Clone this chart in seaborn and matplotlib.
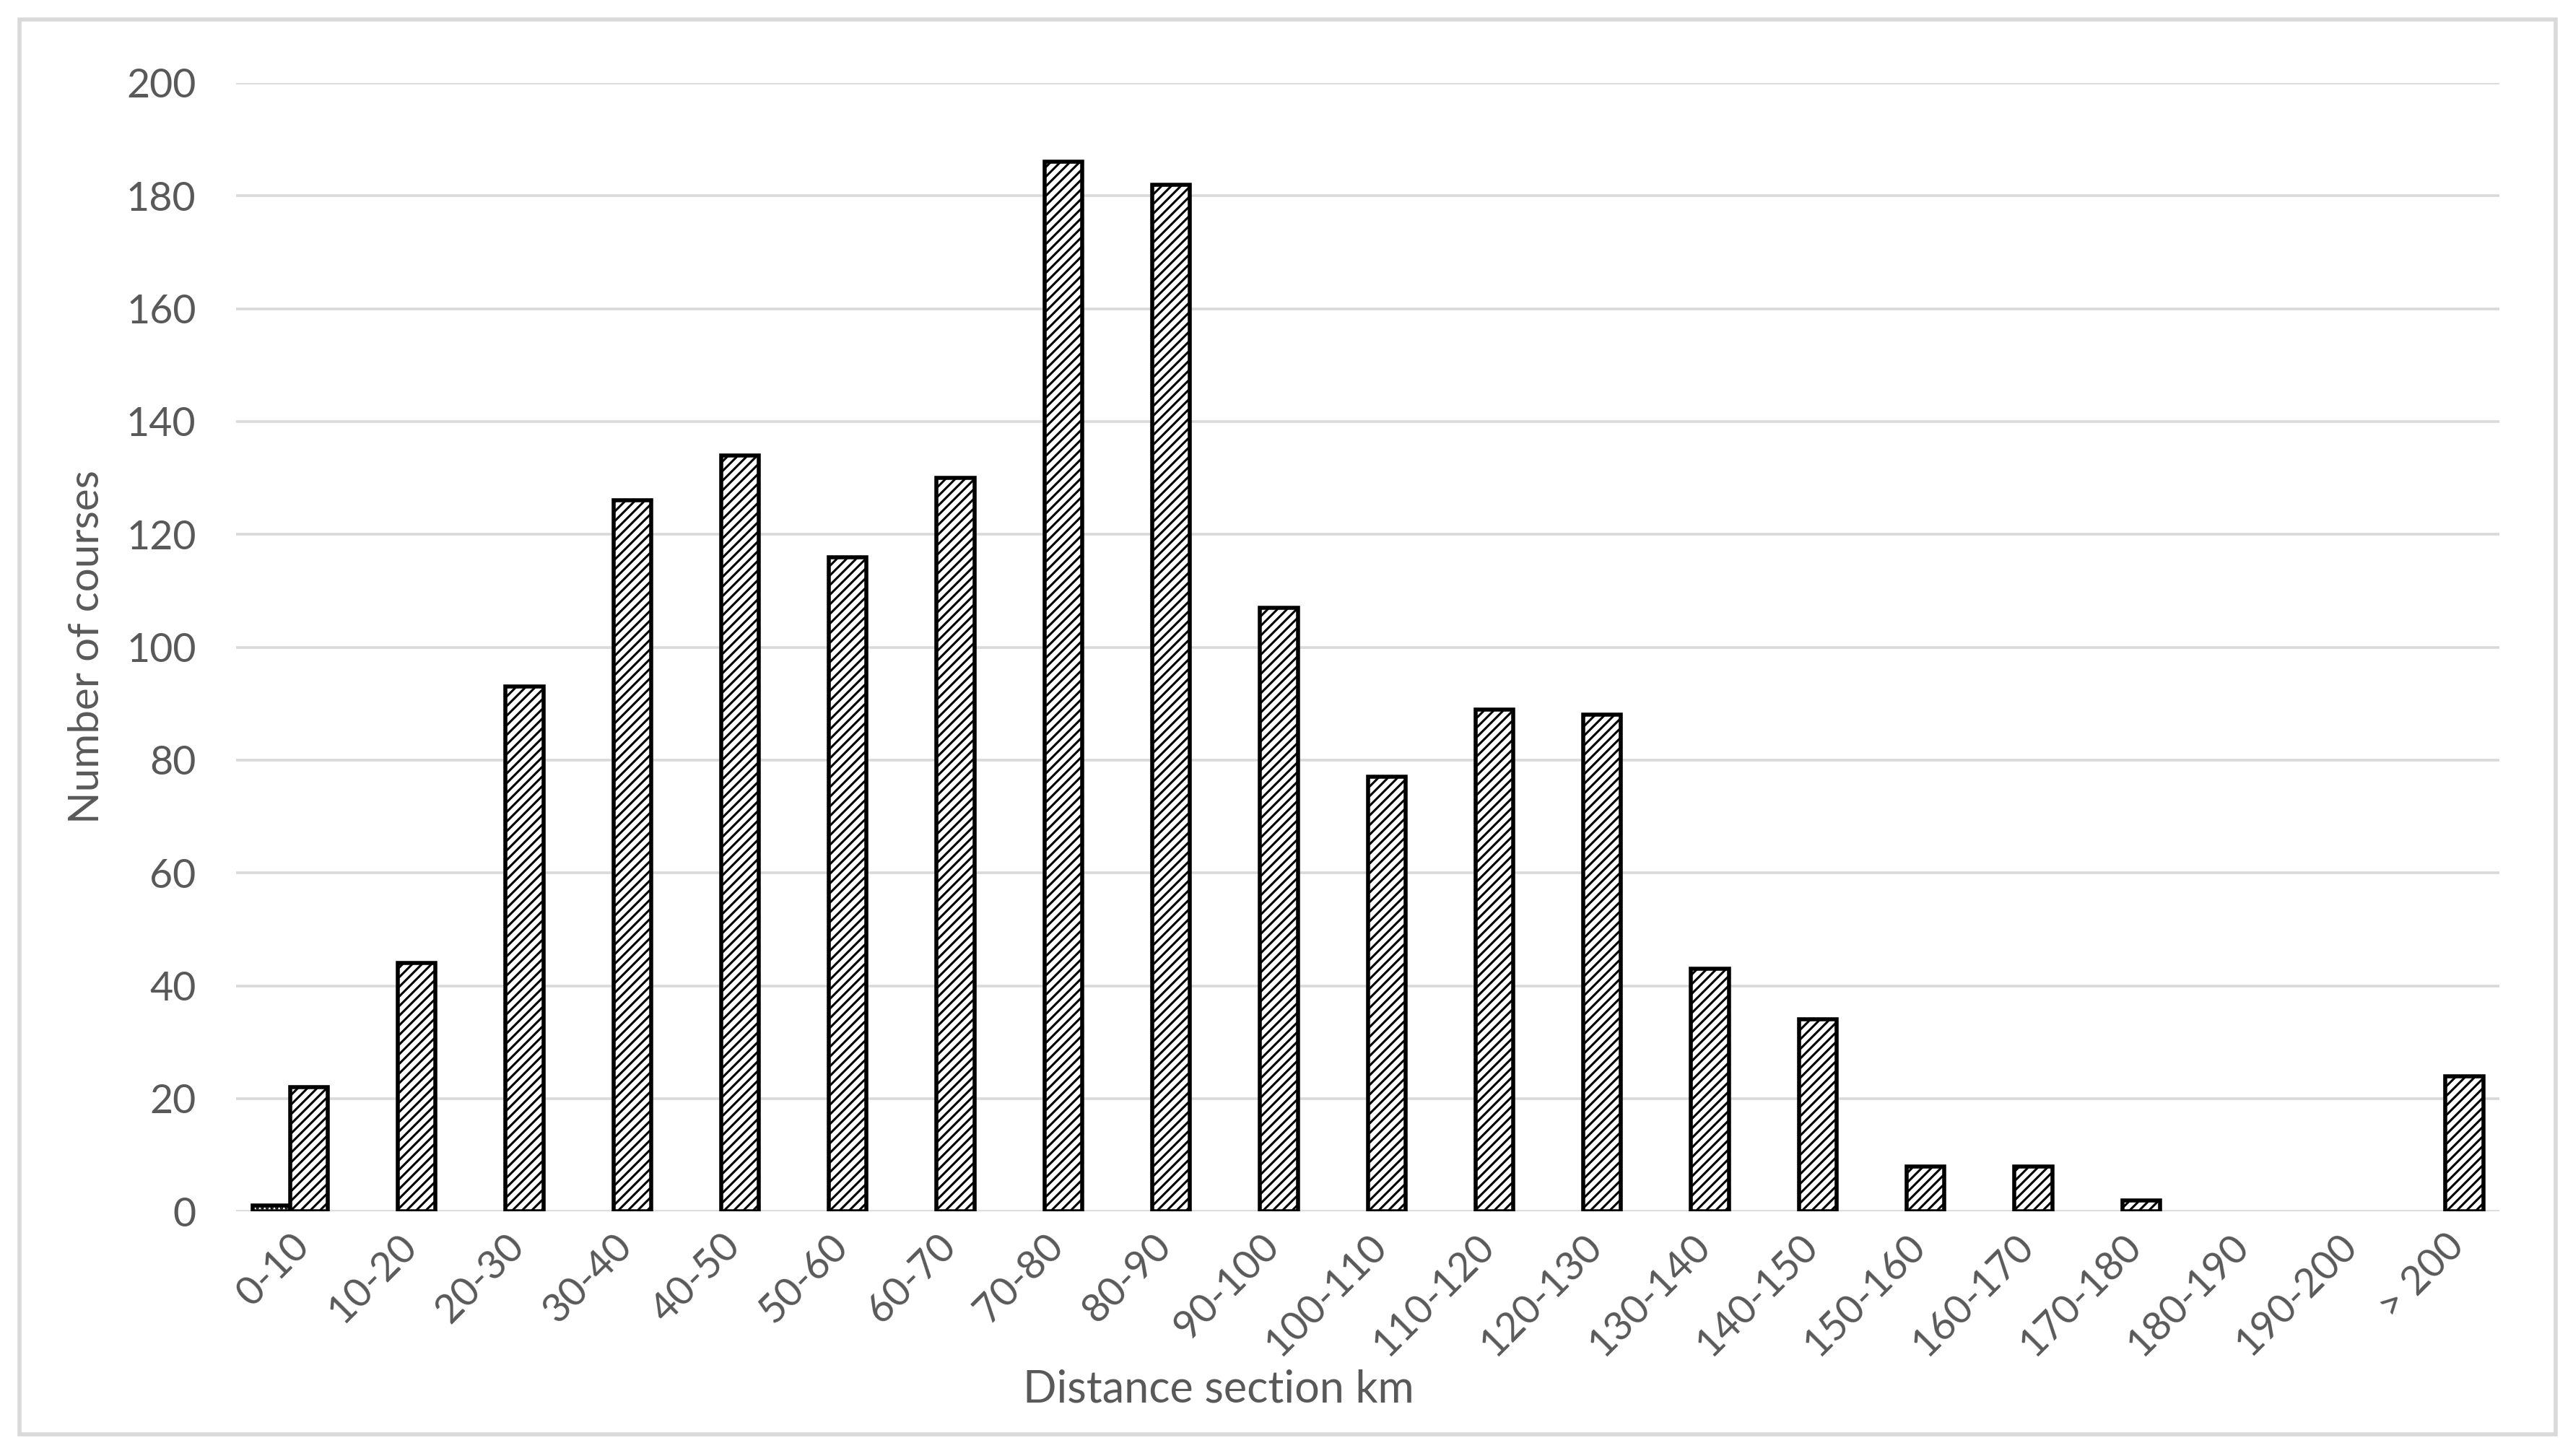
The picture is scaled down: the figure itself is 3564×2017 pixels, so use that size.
import matplotlib
matplotlib.use("Agg")
import matplotlib.pyplot as plt
import matplotlib.patches as mpatches
import pandas as pd
import seaborn as sns

# Data
sections = ['0-10', '10-20', '20-30', '30-40', '40-50', '50-60', '60-70', '70-80',
            '80-90', '90-100', '100-110', '110-120', '120-130', '130-140', '140-150',
            '150-160', '160-170', '170-180', '180-190', '190-200', '> 200']
series_a = [1, 0, 0, 0, 0, 0, 0, 0, 0, 0, 0, 0, 0, 0, 0, 0, 0, 0, 0, 0, 0]
series_b = [22, 44, 93, 126, 134, 116, 130, 186, 182, 107, 77, 89, 88, 43, 34,
            8, 8, 2, 0, 0, 24]

df = pd.DataFrame({
    'Section': sections * 2,
    'Count': series_a + series_b,
    'Series': ['a'] * len(sections) + ['b'] * len(sections),
})

sns.set_style('white')
plt.rcParams['font.family'] = ['Lato', 'DejaVu Sans']
plt.rcParams['hatch.linewidth'] = 1.1
plt.rcParams['hatch.color'] = 'black'

text_color = '#595959'
grid_color = '#d9d9d9'

fig = plt.figure(figsize=(17.82, 10.085), dpi=200)
ax = fig.add_axes([0.0918, 0.168, 0.8796, 0.775])

sns.barplot(data=df, x='Section', y='Count', hue='Series', order=sections,
            palette=['white', 'white'], edgecolor='black', linewidth=2.0,
            width=0.7, legend=False, ax=ax, zorder=3)

for container, hatch in zip(ax.containers, ['.....', '/////']):
    for bar in container:
        bar.set_hatch(hatch)
        # empty sections show no bar at all
        if bar.get_height() == 0:
            bar.set_visible(False)

ax.set_ylim(0, 200)
ax.set_yticks(range(0, 201, 20))
ax.set_xlim(-0.5, len(sections) - 0.5)
ax.grid(axis='y', color=grid_color, linewidth=1.3, zorder=0)
ax.set_axisbelow(True)
for side in ['left', 'right', 'top', 'bottom']:
    ax.spines[side].set_visible(False)
ax.tick_params(axis='both', length=0, labelsize=20, colors=text_color)
ax.tick_params(axis='y', pad=20)
ax.tick_params(axis='x', pad=8)
plt.setp(ax.get_xticklabels(), rotation=45, ha='right', rotation_mode='anchor')

ax.set_xlabel('Distance section km', fontsize=22, color=text_color)
ax.xaxis.set_label_coords(0.434, -0.14)
ax.set_ylabel('Number of courses', fontsize=21, color=text_color, labelpad=10)

# Outer chart-area border
fig.patches.append(mpatches.Rectangle((0.0076, 0.0149), 0.9857, 0.9717,
                                      transform=fig.transFigure, fill=False,
                                      edgecolor=grid_color, linewidth=2.0))

fig.savefig('out.png', dpi=200, facecolor='white')
